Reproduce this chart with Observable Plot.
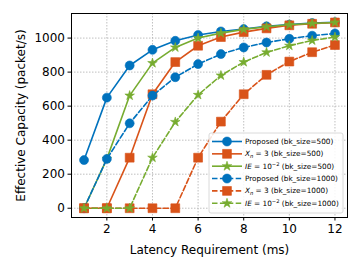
<!DOCTYPE html>
<html>
<head>
<meta charset="utf-8">
<script src="https://cdn.jsdelivr.net/npm/d3@7"></script>
<script src="https://cdn.jsdelivr.net/npm/@observablehq/plot@0.6"></script>
<style>
  html, body { margin: 0; padding: 0; background: #fff; }
  svg { font-family: "DejaVu Sans", sans-serif; }
</style>
</head>
<body>
<div id="chart"></div>
<script>
const latency = [1, 2, 3, 4, 5, 6, 7, 8, 9, 10, 11, 12];
const proposed500 = [283, 650, 839, 931, 984, 1018, 1039, 1053, 1069, 1079, 1088, 1093];
const xn500 = [0, 0, 297, 670, 859, 955, 1006, 1035, 1057, 1075, 1084, 1092];
const ie500 = [0, 290, 662, 853, 945, 1000, 1029, 1051, 1067, 1078, 1086, 1092];
const proposed1000 = [0, 290, 499, 662, 770, 847, 906, 945, 974, 996, 1014, 1027];
const xn1000 = [0, 0, 0, 0, 0, 297, 509, 670, 784, 862, 917, 959];
const ie1000 = [0, 0, 0, 297, 507, 666, 780, 859, 916, 955, 986, 1006];
const xTicks = [2, 4, 6, 8, 10, 12];
const yTicks = [0, 200, 400, 600, 800, 1000];

const BLUE = "#0072BD", ORANGE = "#D95319", GREEN = "#77AC30";
const series = [
  {values: proposed500, color: BLUE, symbol: "circle", dash: null, label: "Proposed (bk_size=500)"},
  {values: xn500, color: ORANGE, symbol: "square", dash: null, label: "xn|500"},
  {values: ie500, color: GREEN, symbol: "star", dash: null, label: "ie|500"},
  {values: proposed1000, color: BLUE, symbol: "circle", dash: "5.5,2.4", label: "Proposed (bk_size=1000)"},
  {values: xn1000, color: ORANGE, symbol: "square", dash: "5.5,2.4", label: "xn|1000"},
  {values: ie1000, color: GREEN, symbol: "star", dash: "5.5,2.4", label: "ie|1000"}
];
const rOf = sym => sym === "circle" ? 4.5 : sym === "square" ? 5.0 : 3.0;

const marks = [
  Plot.gridX(xTicks, {stroke: "#b0b0b0", strokeOpacity: 1, strokeDasharray: "1.5,1.5", strokeWidth: 0.8}),
  Plot.gridY(yTicks, {stroke: "#b0b0b0", strokeOpacity: 1, strokeDasharray: "1.5,1.5", strokeWidth: 0.8}),
];
for (const s of series) {
  const data = latency.map((x, i) => ({x, y: s.values[i]}));
  marks.push(Plot.line(data, {x: "x", y: "y", stroke: s.color, strokeWidth: 1.6, strokeDasharray: s.dash}));
  marks.push(Plot.dot(data, {x: "x", y: "y", fill: s.color, stroke: s.color, strokeWidth: 0.6, symbol: s.symbol, r: rOf(s.symbol)}));
}
marks.push(Plot.frame({stroke: "black", strokeWidth: 1}));
marks.push(Plot.axisX(xTicks, {tickSize: 3.5, tickPadding: 3.5, fontSize: 12, label: "Latency Requirement (ms)", labelAnchor: "center", labelArrow: "none", labelOffset: 36, color: "black"}));
marks.push(Plot.axisY(yTicks, {tickSize: 3.5, tickPadding: 3, fontSize: 12, tickFormat: d => String(d), label: "Effective Capacity (packet/s)", labelAnchor: "center", labelArrow: "none", labelOffset: 55, color: "black"}));

const chart = Plot.plot({
  width: 360,
  height: 270,
  marginLeft: 71,
  marginRight: 13,
  marginTop: 13,
  marginBottom: 53,
  style: {fontFamily: "DejaVu Sans, sans-serif", fontSize: "12px", color: "black", background: "white"},
  x: {domain: [0.45, 12.55]},
  y: {domain: [-54.5, 1144.5]},
  marks
});
document.getElementById("chart").appendChild(chart);

// Legend
const svg = d3.select(chart);
const lg = svg.append("g").attr("font-family", "DejaVu Sans, sans-serif").attr("font-size", 7.3).attr("text-anchor", "start");
lg.append("rect").attr("x", 209).attr("y", 133).attr("width", 134).attr("height", 80)
  .attr("fill", "white").attr("fill-opacity", 0.85).attr("stroke", "#d0d0d0").attr("stroke-width", 0.8).attr("rx", 2);
const symMap = {circle: d3.symbolCircle, square: d3.symbolSquare, star: d3.symbolStar};
series.forEach((s, i) => {
  const cy = 141.5 + i * 12.35;
  lg.append("line").attr("x1", 212).attr("x2", 242).attr("y1", cy).attr("y2", cy)
    .attr("stroke", s.color).attr("stroke-width", 1.6).attr("stroke-dasharray", s.dash);
  const r = rOf(s.symbol);
  lg.append("path").attr("d", d3.symbol(symMap[s.symbol], Math.PI * r * r)())
    .attr("transform", `translate(227,${cy})`).attr("fill", s.color).attr("stroke", s.color).attr("stroke-width", 0.6);
  const t = lg.append("text").attr("x", 245).attr("y", cy).attr("dy", "0.35em").attr("fill", "black");
  const [kind, bk] = s.label.split("|");
  if (kind === "xn") {
    t.append("tspan").attr("font-style", "italic").text("X");
    t.append("tspan").attr("font-style", "italic").attr("font-size", 5.2).attr("dy", "0.25em").text("n");
    t.append("tspan").attr("dy", "-0.18em").text(` = 3 (bk_size=${bk})`);
  } else if (kind === "ie") {
    t.append("tspan").attr("font-style", "italic").text("IE");
    t.append("tspan").text(" = 10");
    t.append("tspan").attr("font-size", 5.2).attr("dy", "-0.45em").text("\u22122");
    t.append("tspan").attr("dy", "0.32em").text(` (bk_size=${bk})`);
  } else {
    t.text(s.label);
  }
});
</script>
</body>
</html>
